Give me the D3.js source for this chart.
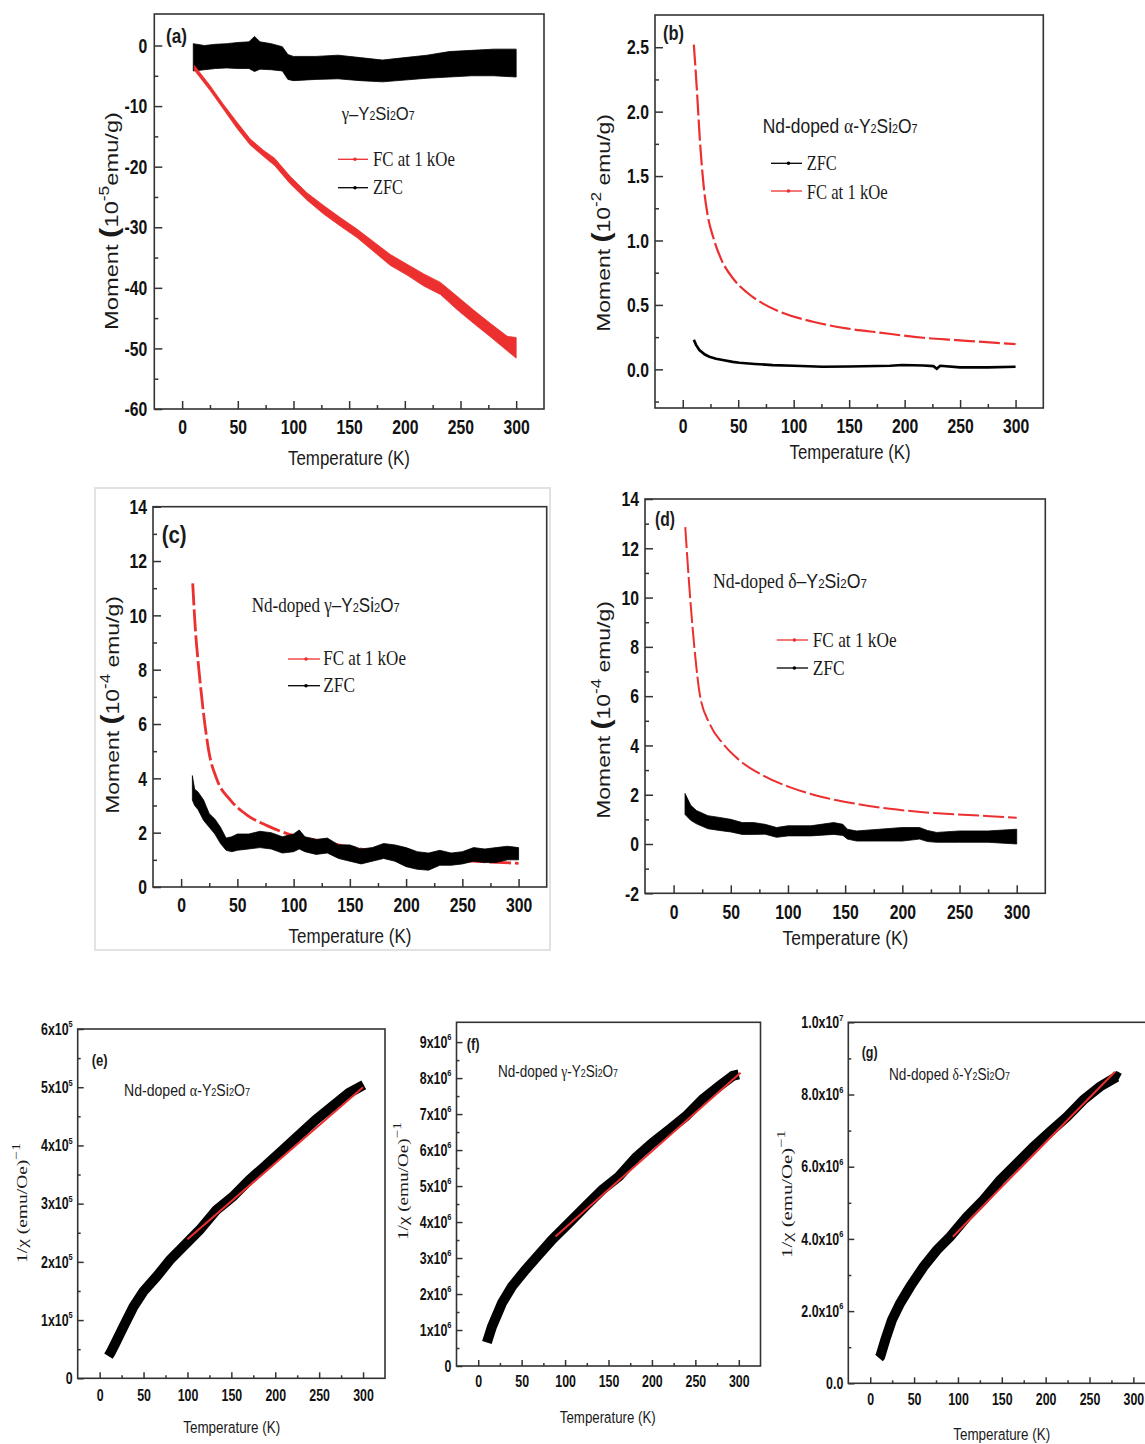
<!DOCTYPE html>
<html>
<head>
<meta charset="utf-8">
<title>Y2Si2O7 magnetization</title>
<script src="https://cdn.jsdelivr.net/npm/d3@7"></script>
<style>
  body { margin: 0; background: #fff; }
</style>
</head>
<body>
<svg id="fig" width="1145" height="1444"></svg>
<script>
'use strict';

// ---------- data ----------
// temperature ticks shared by every panel
const xMajor = [0, 50, 100, 150, 200, 250, 300];
const xMinor = [25, 75, 125, 175, 225, 275];

// (a) gamma-Y2Si2O7, moment in 1e-5 emu/g
const tA_fc = [11, 25, 37, 49, 61, 73, 83, 97, 112, 127, 142, 157, 172, 187, 202, 217, 232, 247, 262, 277, 292, 300];
const mA_fcHi = [-3.3, -6.6, -9.7, -12.6, -15.4, -17.3, -18.6, -21.6, -24.3, -26.4, -28.4, -30.3, -32.4, -34.5, -36.1, -37.7, -39.1, -41.4, -43.7, -45.9, -48.0, -48.2];
const mA_fcLo = [-4.1, -7.4, -10.5, -13.6, -16.4, -18.3, -19.8, -22.8, -25.5, -27.8, -29.8, -31.7, -34.0, -36.3, -37.9, -39.7, -41.1, -43.6, -45.9, -48.1, -50.4, -51.6];
const tA_zfc = [10, 20, 30, 40, 50, 60, 65, 70, 80, 90, 95, 100, 120, 140, 160, 180, 200, 220, 240, 260, 280, 300];
const mA_zfcHi = [0.3, 0.0, 0.2, 0.3, 0.5, 0.6, 1.5, 0.6, 0.3, -0.2, -1.5, -1.8, -1.8, -1.6, -2.0, -2.4, -2.0, -1.6, -1.0, -0.8, -0.6, -0.6];
const mA_zfcLo = [-4.2, -4.0, -3.8, -3.7, -3.8, -3.8, -4.3, -3.9, -4.0, -4.2, -5.6, -5.8, -5.6, -5.5, -5.8, -6.0, -5.7, -5.4, -5.2, -5.0, -5.0, -5.2];
const yMajorA = [-60, -50, -40, -30, -20, -10, 0];
const yMinorA = [-55, -45, -35, -25, -15, -5];
const yLabelsA = ['-60', '-50', '-40', '-30', '-20', '-10', '0'];

// (b) Nd-doped alpha, moment in 1e-2 emu/g
const tB_fc = [10, 12.9, 15.3, 18.9, 22.8, 27.3, 34.9, 45.4, 57.4, 72.4, 87.5, 117.5, 147.6, 177.6, 216.7, 246.8, 276.8, 300];
const mB_fc = [2.52, 2.15, 1.80, 1.42, 1.18, 1.03, 0.85, 0.705, 0.60, 0.51, 0.447, 0.369, 0.318, 0.285, 0.245, 0.227, 0.209, 0.196];
const tB_zfc = [10, 12, 15, 20, 24, 30, 36, 45, 51, 65, 81, 100, 126, 150, 187, 198, 217, 226, 229, 232, 250, 275, 300];
const mB_zfc = [0.23, 0.19, 0.15, 0.115, 0.098, 0.082, 0.072, 0.058, 0.051, 0.042, 0.033, 0.028, 0.02, 0.022, 0.028, 0.034, 0.03, 0.025, 0.005, 0.028, 0.015, 0.015, 0.02];
const yMajorB = [0, 0.5, 1, 1.5, 2, 2.5];
const yMinorB = [-0.25, 0.25, 0.75, 1.25, 1.75, 2.25];
const yLabelsB = ['0.0', '0.5', '1.0', '1.5', '2.0', '2.5'];

// (c) Nd-doped gamma, moment in 1e-4 emu/g
const tC_fc = [10.3, 12.7, 15.7, 20.1, 24.6, 32, 43.8, 58.6, 76.4, 97.1, 126.7, 156.4, 186, 215.6, 245.3, 274.9, 300];
const mC_fc = [11.18, 9.46, 8.05, 6.33, 5.0, 3.94, 3.20, 2.65, 2.26, 1.93, 1.67, 1.42, 1.24, 1.11, 0.99, 0.92, 0.87];
const tC_zfc = [10, 12, 15, 20, 25, 30, 35, 40, 45, 50, 60, 70, 80, 90, 100, 105, 110, 120, 130, 140, 150, 160, 170, 180, 190, 200, 210, 220, 230, 240, 250, 260, 270, 280, 290, 300];
const mC_zfcHi = [4.1, 3.6, 3.5, 3.2, 2.7, 2.5, 2.2, 1.8, 1.85, 1.95, 1.95, 2.05, 2.0, 1.85, 1.95, 2.1, 1.85, 1.75, 1.8, 1.55, 1.55, 1.4, 1.45, 1.6, 1.55, 1.45, 1.3, 1.25, 1.35, 1.25, 1.3, 1.45, 1.4, 1.45, 1.5, 1.45];
const mC_zfcLo = [3.2, 3.0, 2.85, 2.45, 2.2, 1.95, 1.6, 1.35, 1.3, 1.35, 1.4, 1.45, 1.4, 1.25, 1.3, 1.4, 1.3, 1.2, 1.25, 1.05, 0.95, 0.85, 0.95, 1.05, 0.95, 0.75, 0.65, 0.62, 0.8, 0.8, 0.85, 0.95, 0.9, 0.9, 1.0, 1.0];
const yMajorC = [0, 2, 4, 6, 8, 10, 12, 14];
const yMinorC = [1, 3, 5, 7, 9, 11, 13];
const yLabelsC = ['0', '2', '4', '6', '8', '10', '12', '14'];

// (d) Nd-doped delta, moment in 1e-4 emu/g
const tD_fc = [10.2, 14, 19.3, 22.8, 31.5, 43.2, 57.8, 78.2, 101.5, 130.7, 159.9, 189.1, 218.2, 247.4, 276.6, 300];
const mD_fc = [12.86, 10.29, 7.45, 6.10, 4.88, 4.07, 3.39, 2.78, 2.31, 1.90, 1.63, 1.43, 1.29, 1.20, 1.13, 1.06];
const tD_zfc = [10, 15, 20, 30, 40, 50, 60, 70, 80, 90, 100, 120, 140, 148, 152, 160, 180, 200, 215, 222, 230, 250, 275, 300];
const mD_zfcHi = [2.05, 1.57, 1.36, 1.15, 1.08, 1.0, 0.87, 0.87, 0.8, 0.67, 0.74, 0.74, 0.87, 0.8, 0.6, 0.53, 0.6, 0.67, 0.67, 0.55, 0.47, 0.53, 0.53, 0.6];
const mD_zfcLo = [1.2, 0.96, 0.82, 0.62, 0.55, 0.49, 0.39, 0.39, 0.4, 0.27, 0.33, 0.33, 0.39, 0.35, 0.2, 0.12, 0.12, 0.12, 0.2, 0.1, 0.07, 0.07, 0.07, 0.0];
const yMajorD = [-2, 0, 2, 4, 6, 8, 10, 12, 14];
const yMinorD = [-1, 1, 3, 5, 7, 9, 11, 13];
const yLabelsD = ['-2', '0', '2', '4', '6', '8', '10', '12', '14'];

// (e) 1/chi of Nd-doped alpha, in 1e5 (emu/Oe)^-1
const tE = [10, 12.1, 17.8, 27.2, 38.5, 49.8, 65, 80, 98.9, 114, 132.9, 151.7, 170.6, 189.5, 208.3, 227.2, 246.1, 264.9, 283.8, 300.8];
const invChiE = [0.38, 0.43, 0.60, 0.89, 1.23, 1.49, 1.75, 2.03, 2.32, 2.55, 2.89, 3.12, 3.41, 3.66, 3.92, 4.18, 4.44, 4.67, 4.90, 5.04];
const tE_fit = [100, 300];
const invChiE_fit = [2.39, 5.0];
const yMajorE = [0, 1, 2, 3, 4, 5, 6];
const yMinorE = [0.5, 1.5, 2.5, 3.5, 4.5, 5.5];
const yLabelsE = ['0', '1x10^5', '2x10^5', '3x10^5', '4x10^5', '5x10^5', '6x10^5'];

// (f) 1/chi of Nd-doped gamma, in 1e6 (emu/Oe)^-1
const tF = [10, 15.8, 27.4, 38.9, 54.3, 69.7, 85.1, 104.3, 123.6, 142.9, 162.1, 181.4, 200.6, 219.9, 239.1, 258.4, 277.6, 293, 300];
const invChiF = [0.65, 1.09, 1.75, 2.21, 2.67, 3.09, 3.51, 3.97, 4.44, 4.90, 5.27, 5.79, 6.20, 6.57, 6.94, 7.41, 7.78, 8.06, 8.1];
const tF_fit = [89, 302];
const invChiF_fit = [3.6, 8.15];
const yMajorF = [0, 1, 2, 3, 4, 5, 6, 7, 8, 9];
const yMinorF = [0.5, 1.5, 2.5, 3.5, 4.5, 5.5, 6.5, 7.5, 8.5];
const yLabelsF = ['0', '1x10^6', '2x10^6', '3x10^6', '4x10^6', '5x10^6', '6x10^6', '7x10^6', '8x10^6', '9x10^6'];

// (g) 1/chi of Nd-doped delta, in 1e6 (emu/Oe)^-1
const tG = [10, 11.4, 17.1, 24.7, 34.2, 45.6, 60.8, 76, 91.1, 110.2, 129.1, 148.1, 167.1, 186.1, 205.1, 224.1, 243, 262, 281, 284];
const invChiG = [0.7, 0.74, 1.20, 1.75, 2.22, 2.68, 3.23, 3.69, 4.06, 4.61, 5.08, 5.63, 6.09, 6.55, 6.97, 7.38, 7.85, 8.22, 8.49, 8.45];
const tG_fit = [94.2, 279];
const invChiG_fit = [4.06, 8.63];
const yMajorG = [0, 2, 4, 6, 8, 10];
const yMinorG = [1, 3, 5, 7, 9];
const yLabelsG = ['0.0', '2.0x10^6', '4.0x10^6', '6.0x10^6', '8.0x10^6', '1.0x10^7'];

// ---------- drawing ----------
const NARROW = "'Liberation Sans Narrow', 'Arial Narrow', 'Liberation Sans', Arial, sans-serif";
const SANS = "'Liberation Sans', Arial, sans-serif";
const SERIF = "'Liberation Serif', 'Times New Roman', serif";
const RED = '#ec2f2f';
const FRAME = '#333';

const svg = d3.select('#fig');

// tick digits in the figure are tall and narrow; squeeze whatever face we get
function measure(font, str) {
  const t = svg.append('text').attr('font-family', font).attr('font-size', 40)
    .attr('font-weight', 'bold').text(str);
  const w = t.node().getComputedTextLength();
  t.remove();
  return w;
}
const SQUEEZE = measure("'Liberation Sans Narrow', monospace", '0123456789') <
  0.9 * measure("'Liberation Sans'", '0123456789') ? 0.9 : 0.75;

function zip(ts, a, b) {
  return ts.map((t, i) => ({ t: t, v: a[i], v2: b ? b[i] : null }));
}

// splits "2x10^6" into a base part and a superscript part
function withSup(sel, s, supSize, supDy) {
  const parts = s.split('^');
  sel.text(null);
  sel.append('tspan').text(parts[0]);
  if (parts[1]) {
    sel.append('tspan').attr('dy', supDy).attr('font-size', supSize).text(parts[1]);
  }
}

function panel(p) {
  const g = svg.append('g');
  const x = d3.scaleLinear().domain([-25, 325]).range([p.l, p.r]);
  const y = d3.scaleLinear().domain(p.yDom).range([p.b, p.t]);

  g.append('rect')
    .attr('x', p.l).attr('y', p.t)
    .attr('width', p.r - p.l).attr('height', p.b - p.t)
    .attr('fill', 'none').attr('stroke', FRAME).attr('stroke-width', 1.6);

  const gx = g.append('g').attr('transform', 'translate(0,' + p.b + ')')
    .call(d3.axisBottom(x).tickValues(xMajor).tickSize(-p.tick).tickSizeOuter(0)
      .tickPadding(p.xPad).tickFormat(d3.format('d')));
  const gxm = g.append('g').attr('transform', 'translate(0,' + p.b + ')')
    .call(d3.axisBottom(x).tickValues(xMinor).tickSize(-p.tick / 2).tickSizeOuter(0).tickFormat(''));

  const gy = g.append('g').attr('transform', 'translate(' + p.l + ',0)')
    .call(d3.axisLeft(y).tickValues(p.yMajor).tickSize(-p.tick).tickSizeOuter(0)
      .tickPadding(p.yPad).tickFormat((d, i) => p.yLabels[i]));
  const gym = g.append('g').attr('transform', 'translate(' + p.l + ',0)')
    .call(d3.axisLeft(y).tickValues(p.yMinor).tickSize(-p.tick / 2).tickSizeOuter(0).tickFormat(''));

  [gx, gxm, gy, gym].forEach(a => {
    a.select('.domain').remove();
    a.selectAll('.tick line').attr('stroke', FRAME).attr('stroke-width', 1.5);
    a.attr('font-family', NARROW).attr('font-size', p.fs).attr('font-weight', 'bold');
    a.selectAll('.tick text').attr('fill', '#111');
  });
  if (p.sup) {
    gy.selectAll('.tick text').each(function (d, i) {
      withSup(d3.select(this), p.yLabels[i], p.fs * 0.6, -p.fs * 0.45);
    });
  }
  gx.selectAll('.tick text').attr('transform', 'scale(' + SQUEEZE + ',1)');
  gy.selectAll('.tick text').attr('x', -p.yPad / SQUEEZE).attr('transform', 'scale(' + SQUEEZE + ',1)');
  return { g: g, x: x, y: y };
}

// text made of several runs (fonts, sizes, superscripts), squeezed to a width
function rich(g, x, y, parts, o) {
  const t = g.append('text').attr('x', 0).attr('y', 0)
    .attr('font-family', o.font).attr('font-size', o.size).attr('fill', '#1a1a1a');
  if (o.anchor) t.attr('text-anchor', o.anchor);
  if (o.weight) t.attr('font-weight', o.weight);
  parts.forEach(q => {
    const s = t.append('tspan').text(q.t);
    if (q.f) s.attr('font-family', q.f);
    if (q.s) s.attr('font-size', q.s);
    if (q.dy) s.attr('dy', q.dy);
    if (q.w) s.attr('font-weight', q.w);
  });
  const sx = o.len ? o.len / t.node().getComputedTextLength() : 1;
  t.attr('transform', 'translate(' + x + ',' + y + ')' + (o.rotate ? ' rotate(-90)' : '') +
    ' scale(' + sx.toFixed(3) + ',1)');
  return t;
}

function formula(prefix, prefixFont, greek, dash, small) {
  const parts = [];
  if (prefix) parts.push({ t: prefix, f: prefixFont });
  parts.push({ t: greek, f: SERIF });
  parts.push({ t: dash + 'Y', f: NARROW });
  parts.push({ t: '2', s: small, f: NARROW });
  parts.push({ t: 'Si', f: NARROW });
  parts.push({ t: '2', s: small, f: NARROW });
  parts.push({ t: 'O', f: NARROW });
  parts.push({ t: '7', s: small, f: NARROW });
  return parts;
}

function momentLabel(g, x, cy, exp, space) {
  rich(g, x, cy, [
    { t: 'Moment ' },
    { t: '(', w: 'bold', s: 25 },
    { t: '10' },
    { t: '-' + exp, s: 14, dy: -9 },
    { t: (space ? ' ' : '') + 'emu/g)', dy: 9 }
  ], { font: SANS, size: 19, anchor: 'middle', rotate: true, len: 218 });
}

function chiLabel(g, x, cy, len) {
  rich(g, x, cy, [
    { t: '1/\u03c7 (emu/Oe)' },
    { t: '\u22121', s: 12, dy: -7 }
  ], { font: SERIF, size: 15, anchor: 'middle', rotate: true, len: len });
}

function legendItem(g, x1, x2, yl, color, label, tx, ty, len) {
  g.append('line').attr('x1', x1).attr('x2', x2).attr('y1', yl).attr('y2', yl)
    .attr('stroke', color).attr('stroke-width', 1.3);
  g.append('circle').attr('cx', (x1 + x2) / 2 + 2).attr('cy', yl).attr('r', 1.8).attr('fill', color);
  rich(g, tx, ty, [{ t: label }], { font: SERIF, size: 20, len: len });
}

function title(g, cx, by, size, len) {
  rich(g, cx, by, [{ t: 'Temperature (K)' }], { font: NARROW, size: size, anchor: 'middle', len: len });
}

function band(P, rows, color) {
  P.g.append('path').datum(rows)
    .attr('d', d3.area().x(d => P.x(d.t)).y0(d => P.y(d.v2)).y1(d => P.y(d.v)))
    .attr('fill', color).attr('stroke', color).attr('stroke-width', 0.8);
}

function curve(P, rows, color, width, dash, kind) {
  const path = P.g.append('path').datum(rows)
    .attr('d', d3.line().x(d => P.x(d.t)).y(d => P.y(d.v)).curve(kind || d3.curveMonotoneX))
    .attr('fill', 'none').attr('stroke', color).attr('stroke-width', width);
  if (dash) path.attr('stroke-dasharray', dash);
  return path;
}

// ---- (a) ----
const A = panel({ l: 154.3, t: 14, r: 544, b: 409, yDom: [-60, 5.2], yMajor: yMajorA, yMinor: yMinorA,
  yLabels: yLabelsA, tick: 8, fs: 21, xPad: 10, yPad: 7 });
band(A, zip(tA_zfc, mA_zfcHi, mA_zfcLo), '#000');
band(A, zip(tA_fc, mA_fcHi, mA_fcLo), RED);
rich(A.g, 166, 43, [{ t: '(a)' }], { font: NARROW, size: 20, weight: 'bold', len: 21 });
rich(A.g, 341.7, 120, formula(null, null, '\u03b3', '\u2013', 12), { font: NARROW, size: 19, len: 73 });
legendItem(A.g, 338, 368, 159.3, RED, 'FC at 1 kOe', 373, 166, 82);
legendItem(A.g, 338, 368, 187.7, '#000', 'ZFC', 373, 194.3, 30);
momentLabel(A.g, 118, 221, 5, false);
title(A.g, 349, 465, 21, 122);

// ---- (b) ----
const B = panel({ l: 655, t: 15, r: 1043.3, b: 408, yDom: [-0.3, 2.75], yMajor: yMajorB, yMinor: yMinorB,
  yLabels: yLabelsB, tick: 8, fs: 21, xPad: 10, yPad: 6 });
curve(B, zip(tB_zfc, mB_zfc), '#000', 2.6, null, d3.curveLinear);
curve(B, zip(tB_fc, mB_fc), RED, 2.2, '21,4');
rich(B.g, 663, 40, [{ t: '(b)' }], { font: NARROW, size: 20, weight: 'bold', len: 21 });
rich(B.g, 762.7, 133.3, formula('Nd-doped ', NARROW, '\u03b1', '-', 13), { font: NARROW, size: 21, len: 155 });
legendItem(B.g, 771, 802, 163.3, '#000', 'ZFC', 806.7, 170, 30);
legendItem(B.g, 771, 802, 191, RED, 'FC at 1 kOe', 806.7, 199, 81);
momentLabel(B.g, 610, 223, 2, true);
title(B.g, 850, 459, 21, 121);

// ---- (c) ----
svg.append('rect').attr('x', 95).attr('y', 488).attr('width', 455).attr('height', 462)
  .attr('fill', 'none').attr('stroke', '#e2e2e2').attr('stroke-width', 2);
const C = panel({ l: 153, t: 506.7, r: 546.7, b: 887, yDom: [0, 14], yMajor: yMajorC, yMinor: yMinorC,
  yLabels: yLabelsC, tick: 8, fs: 21, xPad: 10, yPad: 6 });
curve(C, zip(tC_fc, mC_fc), RED, 2.8, '22,4');
band(C, zip(tC_zfc, mC_zfcHi, mC_zfcLo), '#000');
rich(C.g, 161.7, 543, [{ t: '(c)' }], { font: NARROW, size: 24, weight: 'bold', len: 25 });
rich(C.g, 251.7, 611.7, formula('Nd-doped ', SERIF, '\u03b3', '\u2013', 13), { font: SERIF, size: 20, len: 148 });
legendItem(C.g, 288, 320, 659, RED, 'FC at 1 kOe', 323.3, 665, 82.7);
legendItem(C.g, 288, 320, 685.7, '#000', 'ZFC', 323.3, 692.3, 31.7);
momentLabel(C.g, 119, 705, 4, true);
title(C.g, 350, 943, 21, 123);

// ---- (d) ----
const D = panel({ l: 645, t: 499, r: 1045.3, b: 893.3, yDom: [-2, 14], yMajor: yMajorD, yMinor: yMinorD,
  yLabels: yLabelsD, tick: 8, fs: 21, xPad: 11, yPad: 6 });
band(D, zip(tD_zfc, mD_zfcHi, mD_zfcLo), '#000');
curve(D, zip(tD_fc, mD_fc), RED, 2, '21,4');
rich(D.g, 655, 526, [{ t: '(d)' }], { font: NARROW, size: 21, weight: 'bold', len: 20 });
rich(D.g, 713, 588, formula('Nd-doped ', SERIF, '\u03b4', '\u2013', 13), { font: SERIF, size: 20, len: 154 });
legendItem(D.g, 776.7, 808, 640, RED, 'FC at 1 kOe', 812.7, 646.7, 84);
legendItem(D.g, 776.7, 808, 668, '#000', 'ZFC', 812.7, 675, 32);
momentLabel(D.g, 610, 710, 4, true);
title(D.g, 845.5, 945, 21, 126);

// ---- (e) ----
const E = panel({ l: 77.7, t: 1029, r: 385, b: 1378.3, yDom: [0, 6], yMajor: yMajorE, yMinor: yMinorE,
  yLabels: yLabelsE, tick: 6, fs: 16.5, xPad: 11, yPad: 5, sup: true });
curve(E, zip(tE, invChiE), '#000', 10, null, d3.curveLinear);
curve(E, zip(tE_fit, invChiE_fit), RED, 2, null, d3.curveLinear);
rich(E.g, 91.7, 1066, [{ t: '(e)' }], { font: NARROW, size: 16, weight: 'bold', len: 16 });
rich(E.g, 124, 1096, formula('Nd-doped ', NARROW, '\u03b1', '-', 11), { font: NARROW, size: 17, len: 126 });
chiLabel(E.g, 27, 1203, 120);
title(E.g, 231.7, 1432.7, 17, 97);

// ---- (f) ----
const F = panel({ l: 456.5, t: 1022.3, r: 760.5, b: 1366, yDom: [0, 9.55], yMajor: yMajorF, yMinor: yMinorF,
  yLabels: yLabelsF, tick: 6, fs: 16.5, xPad: 9, yPad: 5, sup: true });
curve(F, zip(tF, invChiF), '#000', 10, null, d3.curveLinear);
curve(F, zip(tF_fit, invChiF_fit), RED, 2, null, d3.curveLinear);
rich(F.g, 466.7, 1050, [{ t: '(f)' }], { font: NARROW, size: 17, weight: 'bold', len: 13 });
rich(F.g, 498, 1076.7, formula('Nd-doped ', NARROW, '\u03b3', '-', 11), { font: NARROW, size: 17, len: 120 });
chiLabel(F.g, 408, 1181, 118);
title(F.g, 607.8, 1423, 17, 96);

// ---- (g) ----
const G = panel({ l: 848.3, t: 1022.3, r: 1155.3, b: 1383.3, yDom: [0, 10], yMajor: yMajorG, yMinor: yMinorG,
  yLabels: yLabelsG, tick: 6, fs: 16.5, xPad: 10, yPad: 5, sup: true });
curve(G, zip(tG, invChiG), '#000', 10, null, d3.curveLinear);
curve(G, zip(tG_fit, invChiG_fit), RED, 2, null, d3.curveLinear);
rich(G.g, 861.7, 1058, [{ t: '(g)' }], { font: NARROW, size: 17, weight: 'bold', len: 16 });
rich(G.g, 889, 1080, formula('Nd-doped ', NARROW, '\u03b4', '-', 11), { font: NARROW, size: 17, len: 121 });
chiLabel(G.g, 792, 1194, 128);
title(G.g, 1001.7, 1440, 17, 97);
</script>
</body>
</html>
